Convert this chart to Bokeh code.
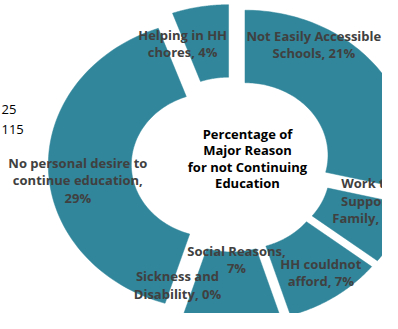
import numpy as np
from bokeh.plotting import figure
from bokeh.models import Range1d
from bokeh.core.properties import value
from bokeh.embed import file_html
from bokeh.resources import INLINE

# ---------------- data ----------------
categories = [
    "Not Easily Accessible Schools",
    "Work to Support Family",
    "HH couldnot afford",
    "Social Reasons",
    "Sickness and Disability",
    "No personal desire to continue education",
    "Helping in HH chores",
]
percent = [21, 5, 7, 7, 0, 29, 4]
label_lines = [
    ["Not Easily Accessible", "Schools, 21%"],
    ["Work to", "Support", "Family, 5%"],
    ["HH couldnot", "afford, 7%"],
    ["Social Reasons,", "7%"],
    ["Sickness and", "Disability, 0%"],
    ["No personal desire to", "continue education,", "29%"],
    ["Helping in HH", "chores, 4%"],
]
title_lines = ["Percentage of", "Major Reason", "for not Continuing", "Education"]
stray_text = ["25", "115"]

# ---------------- layout / style ----------------
W, H = 382, 313
CX, CY = 231.0, 164.0          # donut centre (picture px)
R_OUT, R_IN = 145.0, 72.5
SX = 1.145                     # horizontal stretch of the picture
EXPLODE = 15.0
LH = 17.5                      # label line height
SLICE_COLOR = "#31869b"
LABEL_COLOR = "#404040"
FONT = "Open Sans"
# label nudges (px) from the slice's mid-ring point
nudges = [(-29, -43.5), (8, -18), (9, 6), (5, -29), (-12, 2.5), (-12, 13), (-24.6, 1)]

p = figure(width=W, height=H, output_backend="svg", toolbar_location=None,
           x_axis_location=None, y_axis_location=None,
           x_range=Range1d(0, W), y_range=Range1d(H, 0),
           min_border=0, outline_line_color=None, background_fill_color="white")
p.grid.visible = False

total = float(sum(percent))
cum = np.concatenate([[0.0], np.cumsum(percent)]) * 2 * np.pi / total

xs, ys = [], []
lx, ly, lt = [], [], []
for i, v in enumerate(percent):
    a0, a1 = cum[i], cum[i + 1]
    bis = 0.5 * (a0 + a1)
    ox = SX * EXPLODE * np.sin(bis)
    oy = -EXPLODE * np.cos(bis)
    if v > 0:
        t = np.linspace(a0, a1, 80)
        xo = CX + ox + SX * R_OUT * np.sin(t)
        yo = CY + oy - R_OUT * np.cos(t)
        xi = CX + ox + SX * R_IN * np.sin(t[::-1])
        yi = CY + oy - R_IN * np.cos(t[::-1])
        xs.append(list(np.concatenate([xo, xi])))
        ys.append(list(np.concatenate([yo, yi])))
    rm = 0.5 * (R_OUT + R_IN)
    ax = CX + ox + SX * rm * np.sin(bis) + nudges[i][0]
    ay = CY + oy - rm * np.cos(bis) + nudges[i][1]
    lines = label_lines[i]
    n = len(lines)
    for k, s in enumerate(lines):
        lx.append(ax)
        ly.append(ay + (k - (n - 1) / 2.0) * LH)
        lt.append(s)

p.patches(xs=xs, ys=ys, fill_color=SLICE_COLOR, line_color=SLICE_COLOR, line_width=0.5)

p.text(x=lx, y=ly, text=lt, text_font=value(FONT), text_font_style="bold",
       text_font_size="13px", text_color=LABEL_COLOR, text_align="center",
       text_baseline="middle")

# centre title
tx = [CX + 16] * len(title_lines)
ty = [CY - 6 + (k - (len(title_lines) - 1) / 2.0) * 16.5 for k in range(len(title_lines))]
p.text(x=tx, y=ty, text=title_lines, text_font=value(FONT), text_font_style="bold",
       text_font_size="13px", text_color="#000000", text_align="center",
       text_baseline="middle")

# stray numbers on the left
p.text(x=[1] * len(stray_text), y=[109, 128.5], text=stray_text,
       text_font=value(FONT), text_font_size="13px", text_color="#000000",
       text_align="left", text_baseline="middle")

open("out.html", "w").write(file_html(p, INLINE))
